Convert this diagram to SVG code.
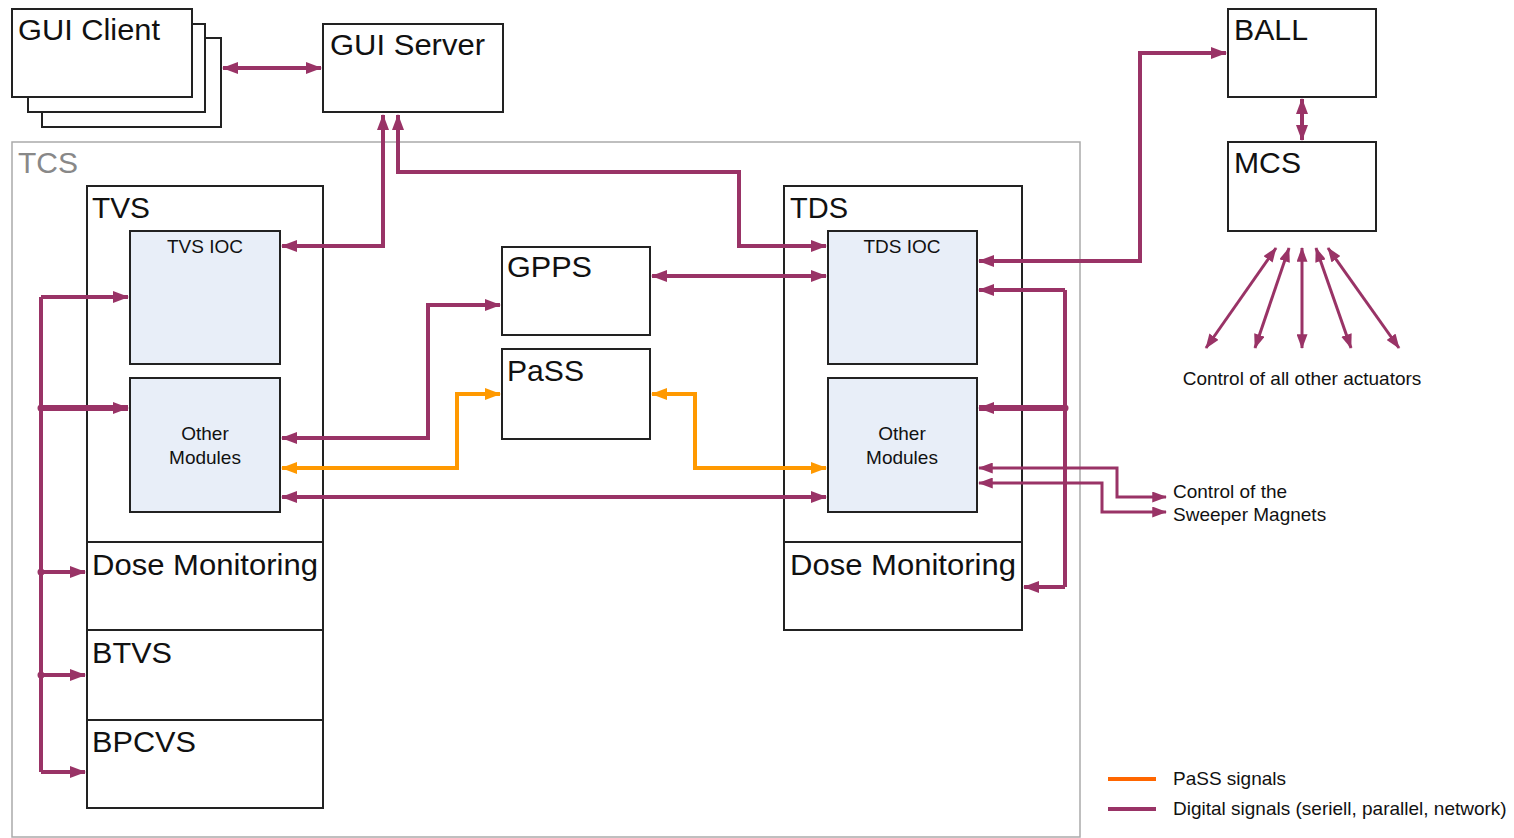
<svg xmlns="http://www.w3.org/2000/svg" width="1514" height="838" viewBox="0 0 1514 838">
<style>
.box{fill:#fff;stroke:#222;stroke-width:2}
.mod{fill:#e8eef8;stroke:#222;stroke-width:2}
.big{font-family:"Liberation Sans",Arial,sans-serif;font-size:29px;fill:#111}
.sm{font-family:"Liberation Sans",Arial,sans-serif;font-size:19px;fill:#111}
.p{fill:none;stroke:#993366;stroke-width:4;marker-end:url(#ah);marker-start:url(#ah)}
.pe{fill:none;stroke:#993366;stroke-width:4;marker-end:url(#ah)}
.pt{fill:none;stroke:#993366;stroke-width:6;marker-end:url(#ah)}
.ps{fill:none;stroke:#993366;stroke-width:3;marker-end:url(#ahs);marker-start:url(#ahs)}
.o{fill:none;stroke:#ff9900;stroke-width:4;marker-end:url(#ao);marker-start:url(#ao)}
.ln{fill:none;stroke:#993366;stroke-width:4}
</style>
<defs>
<marker id="ah" viewBox="0 0 16 12" refX="15" refY="6" markerWidth="16" markerHeight="12" markerUnits="userSpaceOnUse" orient="auto-start-reverse"><path d="M0,0 L16,6 L0,12 z" fill="#993366"/></marker>
<marker id="ahs" viewBox="0 0 16 12" refX="15" refY="6" markerWidth="15" markerHeight="11" markerUnits="userSpaceOnUse" orient="auto-start-reverse"><path d="M0,0 L16,6 L0,12 z" fill="#993366"/></marker>
<marker id="ao" viewBox="0 0 16 12" refX="15" refY="6" markerWidth="16" markerHeight="12" markerUnits="userSpaceOnUse" orient="auto-start-reverse"><path d="M0,0 L16,6 L0,12 z" fill="#ff9900"/></marker>
</defs>
<rect width="1514" height="838" fill="#fff"/>

<g id="tcs">
<rect x="12" y="142" width="1068" height="695" fill="none" stroke="#aaa" stroke-width="1.5"/>
<text x="18" y="173" class="big" style="fill:#888" textLength="60" lengthAdjust="spacingAndGlyphs">TCS</text>
</g>

<g id="gui-client">
<rect x="42" y="38" width="179" height="89" class="box"/>
<rect x="28" y="24" width="177" height="88" class="box"/>
<rect x="12" y="9" width="180" height="88" class="box"/>
<text x="18" y="40" class="big" textLength="142" lengthAdjust="spacingAndGlyphs">GUI Client</text>
</g>

<g id="gui-server">
<rect x="323" y="24" width="180" height="88" class="box"/>
<text x="330" y="55" class="big" textLength="155" lengthAdjust="spacingAndGlyphs">GUI Server</text>
</g>

<g id="ball">
<rect x="1228" y="9" width="148" height="88" class="box"/>
<text x="1234" y="40" class="big" textLength="74" lengthAdjust="spacingAndGlyphs">BALL</text>
</g>

<g id="mcs">
<rect x="1228" y="142" width="148" height="89" class="box"/>
<text x="1234" y="173" class="big" textLength="67" lengthAdjust="spacingAndGlyphs">MCS</text>
</g>

<g id="tvs">
<rect x="87" y="186" width="236" height="622" class="box"/>
<line x1="87" y1="542" x2="323" y2="542" stroke="#222" stroke-width="2"/>
<line x1="87" y1="630" x2="323" y2="630" stroke="#222" stroke-width="2"/>
<line x1="87" y1="720" x2="323" y2="720" stroke="#222" stroke-width="2"/>
<text x="92" y="218" class="big" textLength="58" lengthAdjust="spacingAndGlyphs">TVS</text>
</g>
<g id="tvs-ioc">
<rect x="130" y="231" width="150" height="133" class="mod"/>
<text x="205" y="253" class="sm" text-anchor="middle">TVS IOC</text>
</g>
<g id="tvs-other">
<rect x="130" y="378" width="150" height="134" class="mod"/>
<text x="205" y="440" class="sm" text-anchor="middle">Other</text>
<text x="205" y="464" class="sm" text-anchor="middle">Modules</text>
</g>
<g id="tvs-dose"><text x="92" y="575" class="big" textLength="226" lengthAdjust="spacingAndGlyphs">Dose Monitoring</text></g>
<g id="btvs"><text x="92" y="663" class="big" textLength="80" lengthAdjust="spacingAndGlyphs">BTVS</text></g>
<g id="bpcvs"><text x="92" y="752" class="big" textLength="104" lengthAdjust="spacingAndGlyphs">BPCVS</text></g>

<g id="gpps">
<rect x="502" y="247" width="148" height="88" class="box"/>
<text x="507" y="277" class="big" textLength="85" lengthAdjust="spacingAndGlyphs">GPPS</text>
</g>
<g id="pass">
<rect x="502" y="349" width="148" height="90" class="box"/>
<text x="507" y="381" class="big" textLength="77" lengthAdjust="spacingAndGlyphs">PaSS</text>
</g>

<g id="tds">
<rect x="784" y="186" width="238" height="444" class="box"/>
<line x1="784" y1="542" x2="1022" y2="542" stroke="#222" stroke-width="2"/>
<text x="790" y="218" class="big" textLength="58" lengthAdjust="spacingAndGlyphs">TDS</text>
</g>
<g id="tds-ioc">
<rect x="828" y="231" width="149" height="133" class="mod"/>
<text x="902" y="253" class="sm" text-anchor="middle">TDS IOC</text>
</g>
<g id="tds-other">
<rect x="828" y="378" width="149" height="134" class="mod"/>
<text x="902" y="440" class="sm" text-anchor="middle">Other</text>
<text x="902" y="464" class="sm" text-anchor="middle">Modules</text>
</g>
<g id="tds-dose"><text x="790" y="575" class="big" textLength="226" lengthAdjust="spacingAndGlyphs">Dose Monitoring</text></g>

<g id="connectors">
<path class="p" d="M223,68 H321"/>
<path class="p" d="M383,115 V246 H282"/>
<path class="p" d="M398,115 V172 H739 V246 H826"/>
<path class="p" d="M652,276 H826"/>
<path class="p" d="M282,438 H428 V305 H500"/>
<path class="o" d="M282,468 H457 V394 H500"/>
<path class="o" d="M652,394 H695 V468 H826"/>
<path class="p" d="M282,497 H826"/>
<path class="p" d="M979,261 H1140 V53 H1226"/>
<path class="p" d="M1302,99 V140"/>
<path class="ln" d="M41,297 V772"/>
<path class="pe" d="M41,297 H128"/>
<path class="pt" d="M41,408 H128"/>
<path class="pe" d="M41,572 H85"/>
<path class="pe" d="M41,675 H85"/>
<path class="pe" d="M41,772 H85"/>
<circle cx="41" cy="408" r="3.5" fill="#993366"/>
<circle cx="41" cy="572" r="3.5" fill="#993366"/>
<circle cx="41" cy="675" r="3.5" fill="#993366"/>
<path class="ln" d="M1065,290 V587"/>
<path class="pe" d="M1065,290 H979"/>
<path class="pt" d="M1065,408 H979"/>
<path class="pe" d="M1065,587 H1024"/>
<circle cx="1065" cy="408" r="3.5" fill="#993366"/>
<path class="ps" d="M979,468 H1117 V497 H1166"/>
<path class="ps" d="M979,483 H1102 V512 H1166"/>
<path class="ps" d="M1276,248 L1206,348"/>
<path class="ps" d="M1289,248 L1255,348"/>
<path class="ps" d="M1302,248 L1302,348"/>
<path class="ps" d="M1316,248 L1351,348"/>
<path class="ps" d="M1328,248 L1399,348"/>
</g>

<g id="labels">
<text x="1302" y="385" class="sm" text-anchor="middle">Control of all other actuators</text>
<text x="1173" y="498" class="sm">Control of the</text>
<text x="1173" y="521" class="sm">Sweeper Magnets</text>
</g>

<g id="legend">
<line x1="1108" y1="779" x2="1156" y2="779" stroke="#ff6600" stroke-width="4"/>
<line x1="1108" y1="809" x2="1156" y2="809" stroke="#993366" stroke-width="4"/>
<text x="1173" y="785" class="sm">PaSS signals</text>
<text x="1173" y="815" class="sm">Digital signals (seriell, parallel, network)</text>
</g>
</svg>
